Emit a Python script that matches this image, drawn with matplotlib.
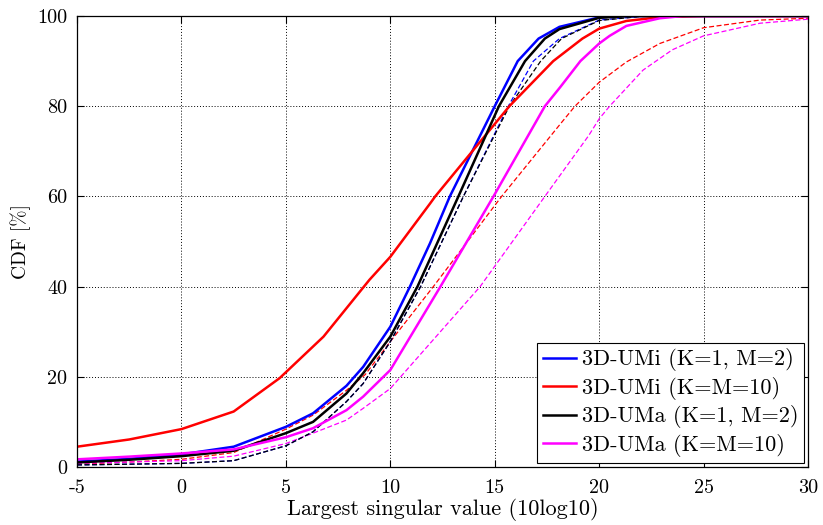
import matplotlib
matplotlib.use("Agg")
import matplotlib.pyplot as plt

plt.rcParams.update({
    "font.family": "serif",
    "font.serif": ["cmr10", "DejaVu Serif"],
    "axes.unicode_minus": False,
    "mathtext.fontset": "cm",
})

# CDF curves: x in dB, y in %
blue_x = [-5, -2.5, 0, 2.5, 5, 6.3, 7.9, 8.7, 10, 10.94, 11.9, 12.85, 15.0, 16.1, 17.1, 18.1, 20, 21, 30]
blue_y = [1.2, 1.8, 2.8, 4.5, 8.9, 11.9, 18, 22.2, 31.1, 40, 49.6, 60, 80, 90, 95, 97.6, 99.7, 100, 100]

red_x = [-5, -2.5, 0, 2.5, 4.7, 6.8, 9.0, 10, 11.9, 12.15, 15.7, 17.8, 19.2, 20, 21.3, 23, 25, 30]
red_y = [4.5, 6.1, 8.4, 12.3, 19.7, 28.9, 41.5, 46.6, 58.4, 60, 80, 90, 95, 97.2, 98.9, 99.8, 100, 100]

black_x = [-5, -2.5, 0, 2.5, 5, 6.3, 7.9, 8.7, 10, 11.3, 13.26, 15.2, 16.45, 17.4, 18.1, 20, 21.5, 30]
black_y = [1.0, 1.6, 2.4, 3.6, 7.5, 10, 16.3, 20.8, 28.9, 40, 60, 80, 90, 95, 97.1, 99.6, 100, 100]

mag_x = [-5, -2.5, 0, 2.5, 5, 6.3, 7.9, 8.7, 10, 12.4, 14.94, 17.4, 18.13, 19.1, 20, 20.5, 21.3, 22.9, 24, 30]
mag_y = [1.7, 2.3, 3.0, 3.9, 6.6, 8.6, 12.6, 15.6, 21.5, 40, 60, 80, 84.2, 90, 93.9, 95.6, 97.8, 99.5, 100, 100]

blue_d_x = [-5, 0, 2.5, 5, 6.3, 7.9, 8.7, 10, 11.45, 13.5, 15.65, 16.85, 18.1, 20, 22, 30]
blue_d_y = [0.45, 0.8, 1.4, 4.7, 7.8, 14.5, 18.5, 27.8, 40, 60, 80, 90, 95, 99.1, 99.9, 100]

red_d_x = [-5, -2.5, 0, 2.5, 5, 6.3, 7.9, 8.8, 10, 12.06, 15.33, 18.13, 18.84, 20, 21.3, 22.9, 25, 27.7, 30]
red_d_y = [0.6, 1.1, 1.7, 3.2, 8.4, 11.5, 17, 20.5, 27.8, 40, 60, 76, 80, 85.3, 89.8, 93.9, 97.4, 99.1, 99.5]

black_d_x = [-5, 0, 2.5, 5, 6.3, 7.9, 8.7, 10, 11.45, 13.5, 15.7, 17.2, 18.2, 20, 22, 30]
black_d_y = [0.45, 0.8, 1.4, 4.7, 7.8, 14.5, 18.5, 27.8, 40, 60, 80, 90, 95, 99.0, 99.9, 100]

mag_d_x = [-5, -2.5, 0, 2.5, 5, 6.3, 7.9, 8.7, 10, 14.3, 17.4, 19.5, 20, 20.5, 22.1, 23.5, 25, 27.7, 30]
mag_d_y = [0.8, 1.1, 1.4, 2.4, 5.2, 7.5, 10.4, 13, 17.4, 40, 60, 73.5, 77.2, 80, 88, 92.5, 95.6, 98.4, 99.3]

labels = ["3D-UMi (K=1, M=2)", "3D-UMi (K=M=10)",
          "3D-UMa (K=1, M=2)", "3D-UMa (K=M=10)"]
x_ticks = [-5, 0, 5, 10, 15, 20, 25, 30]
y_ticks = [0, 20, 40, 60, 80, 100]

fig = plt.figure(figsize=(8.23, 5.25), dpi=100)
ax = fig.add_axes([0.0936, 0.1105, 0.8882, 0.859])

dash = dict(linewidth=0.9, dashes=(4, 2))
ax.plot(red_d_x, red_d_y, color="#ff0000", **dash)
ax.plot(mag_d_x, mag_d_y, color="#ff00ff", **dash)
ax.plot(blue_d_x, blue_d_y, color="#0000ff", **dash)
ax.plot(black_d_x, black_d_y, color="black", **dash)

ax.plot(blue_x, blue_y, color="#0000ff", lw=1.8, label=labels[0])
ax.plot(red_x, red_y, color="#ff0000", lw=1.8, label=labels[1])
ax.plot(black_x, black_y, color="black", lw=1.8, label=labels[2])
ax.plot(mag_x, mag_y, color="#ff00ff", lw=1.8, label=labels[3])

ax.set_xlim(-5, 30)
ax.set_ylim(0, 100)
ax.set_xticks(x_ticks)
ax.set_xticklabels([str(t) for t in x_ticks])
ax.set_yticks(y_ticks)
ax.set_yticklabels([str(t) for t in y_ticks])
ax.tick_params(direction="in", top=True, right=True, labelsize=14.5,
               length=5, width=0.8)
ax.tick_params(axis="x", pad=9)
ax.tick_params(axis="y", pad=7)
ax.grid(True, color="black", linestyle=(0, (1, 2)), linewidth=0.7)
for s in ax.spines.values():
    s.set_linewidth(0.9)

ax.set_xlabel("Largest singular value (10log10)", fontsize=16)
ax.xaxis.set_label_coords(0.5, -0.068)
ax.set_ylabel("CDF [%]", fontsize=14)
ax.yaxis.set_label_coords(-0.063, 0.5)

leg = ax.legend(loc="lower right", fontsize=16, frameon=True, fancybox=False,
                edgecolor="black", framealpha=1, handlelength=1.5,
                borderaxespad=0.2, labelspacing=0.25, handletextpad=0.25,
                borderpad=0.25)
leg.get_frame().set_linewidth(0.8)

fig.savefig("out.png", dpi=100, facecolor="white")
